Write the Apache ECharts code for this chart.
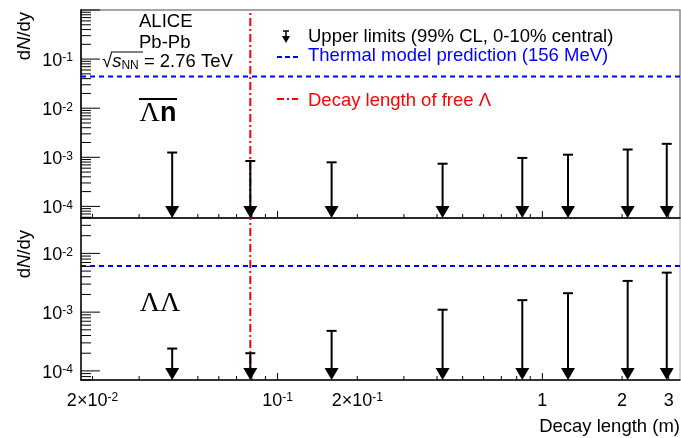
<!DOCTYPE html>
<html>
<head>
<meta charset="utf-8">
<script src="https://cdn.jsdelivr.net/npm/echarts@6/dist/echarts.min.js"></script>
<style>
html,body{margin:0;padding:0;background:#fff;}
#main{width:681px;height:438px;}
</style>
</head>
<body>
<div id="main"></div>
<script>
// decay lengths (m) where upper limits were set
var decayLength = [0.04, 0.0789, 0.16, 0.42, 0.84, 1.25, 2.1, 2.95];
// 99% CL upper limits dN/dy
var lnUpperLimit = [1.25e-3, 8.4e-4, 7.9e-4, 7.4e-4, 9.7e-4, 1.13e-3, 1.44e-3, 1.88e-3];
var llUpperLimit = [2.4e-4, 2.0e-4, 4.8e-4, 1.1e-3, 1.6e-3, 2.1e-3, 3.4e-3, 4.7e-3];
// thermal model (156 MeV) : [Lambda-n, Lambda-Lambda]
var thermalPrediction = [0.044, 0.0061];
var freeLambdaDecay = 0.0789;

var xRange = [0.0181, 3.31];
var topYRange = [5.8e-5, 1.0];
var botYRange = [7e-5, 0.04];

var xLabelValues = [0.02, 0.1, 0.2, 1, 2, 3];
var xLabelTexts = ['2×10{s|-2}', '10{s|-1}', '2×10{s|-1}', '1', '2', '3'];
var topYLabelValues = [1e-1, 1e-2, 1e-3, 1e-4];
var botYLabelValues = [1e-2, 1e-3, 1e-4];

var FONT = 'Liberation Sans';
var chart = echarts.init(document.getElementById('main'));

function arrowItem(yMin){
	return function(params, api){
		var top = api.coord([api.value(0), api.value(1)]);
		var bot = api.coord([api.value(0), yMin]);
		var hw = 7, hh = 12;
		return {
			type: 'group',
			children: [
				{type: 'line', shape: {x1: top[0], y1: top[1], x2: bot[0], y2: bot[1] - hh + 1}, style: {stroke: '#000', lineWidth: 2}},
				{type: 'line', shape: {x1: top[0] - 5, y1: top[1], x2: top[0] + 5, y2: top[1]}, style: {stroke: '#000', lineWidth: 2}},
				{type: 'polygon', shape: {points: [[bot[0] - hw, bot[1] - hh], [bot[0] + hw, bot[1] - hh], [bot[0], bot[1]]]}, style: {fill: '#000'}}
			]
		};
	};
}

function pairs(xs, ys){
	return xs.map(function(x, i){ return [x, ys[i]]; });
}

function refLine(gi, data, color, dash){
	return {type: 'line', xAxisIndex: gi, yAxisIndex: gi, data: data, symbol: 'none', silent: true, z: 2,
		lineStyle: {color: color, width: 2, type: dash}};
}

var axisLine = {show: true, lineStyle: {color: '#000', width: 1.5}};
var yRanges = [topYRange, botYRange];

var series = [];
[0, 1].forEach(function(gi){
	var yr = yRanges[gi];
	series.push(refLine(gi, [[xRange[0], thermalPrediction[gi]], [xRange[1], thermalPrediction[gi]]], '#0000ff', [5, 4]));
	series.push(refLine(gi, [[freeLambdaDecay, yr[0]], [freeLambdaDecay, yr[1]]], '#ff0000', [8, 3, 2, 3]));
});
series.push({type: 'custom', xAxisIndex: 0, yAxisIndex: 0, renderItem: arrowItem(topYRange[0]),
	data: pairs(decayLength, lnUpperLimit), z: 3});
series.push({type: 'custom', xAxisIndex: 1, yAxisIndex: 1, renderItem: arrowItem(botYRange[0]),
	data: pairs(decayLength, llUpperLimit), z: 3});

var option = {
	animation: false,
	grid: [
		{left: 81, right: 1, top: 10, height: 208, show: true, borderColor: '#888', borderWidth: 1.5},
		{left: 81, right: 1, top: 218, height: 162, show: true, borderColor: '#aaa', borderWidth: 1}
	],
	xAxis: [0, 1].map(function(i){
		return {gridIndex: i, type: 'log', min: xRange[0], max: xRange[1], axisLine: axisLine,
			axisTick: {show: false}, axisLabel: {show: false}, splitLine: {show: false}};
	}),
	yAxis: yRanges.map(function(r, i){
		return {gridIndex: i, type: 'log', min: r[0], max: r[1], axisLine: axisLine,
			axisTick: {show: false}, axisLabel: {show: false}, splitLine: {show: false}};
	}),
	series: series
};
chart.setOption(option);

// ROOT-like log ticks and labels, placed with the chart's own scales
var g = [];
function px(gi, x, y){ return chart.convertToPixel({gridIndex: gi}, [x, y]); }
function seg(x1, y1, x2, y2, w, c){
	g.push({type: 'line', silent: true, z: 10, shape: {x1: x1, y1: y1, x2: x2, y2: y2}, style: {stroke: c || '#000', lineWidth: w || 1}});
}
function txt(x, y, text, size, align, vAlign, extra){
	var el = {type: 'text', x: x, y: y, silent: true, z: 10, style: {
		text: text, fill: '#000', fontSize: size, fontFamily: FONT, align: align, verticalAlign: vAlign,
		rich: {
			s: {fontSize: 12, fontFamily: FONT, verticalAlign: 'top'},
			i: {fontSize: size, fontFamily: FONT, fontStyle: 'italic'},
			sub: {fontSize: 12, fontFamily: FONT, verticalAlign: 'bottom'}
		}
	}};
	if(extra){ for(var k in extra){ el[k] = extra[k]; } }
	g.push(el);
	return el;
}

[0, 1].forEach(function(gi){
	var yr = yRanges[gi];
	// x ticks
	for(var e = -2; e <= 0; e++){
		for(var d = 1; d <= 9; d++){
			var v = d * Math.pow(10, e);
			if(v < xRange[0] || v > xRange[1]) continue;
			var q = px(gi, v, yr[0]);
			seg(q[0], q[1], q[0], q[1] - (d === 1 ? 7 : 4), 1);
		}
	}
	// y ticks
	for(var e2 = -5; e2 <= 0; e2++){
		for(var d2 = 1; d2 <= 9; d2++){
			var v2 = d2 * Math.pow(10, e2);
			if(v2 < yr[0] || v2 > yr[1]) continue;
			var q2 = px(gi, xRange[0], v2);
			seg(q2[0], q2[1], q2[0] + (d2 === 1 ? 19 : 10), q2[1], 1);
		}
	}
});

topYLabelValues.forEach(function(v){
	var q = px(0, xRange[0], v);
	txt(73, q[1] + 2, '10{s|' + Math.round(Math.log10(v)) + '}', 18, 'right', 'middle');
});
botYLabelValues.forEach(function(v){
	var q = px(1, xRange[0], v);
	txt(73, q[1] + 2, '10{s|' + Math.round(Math.log10(v)) + '}', 18, 'right', 'middle');
});
xLabelValues.forEach(function(v, i){
	var q = px(1, v, botYRange[0]);
	txt(q[0], 401, xLabelTexts[i], 18, 'center', 'middle');
});

// titles
txt(680, 427, 'Decay length (m)', 18.5, 'right', 'middle');
txt(25, 12, 'd{i|N}/dy', 18.5, 'right', 'middle', {rotation: Math.PI / 2});
txt(25, 230, 'd{i|N}/dy', 18.5, 'right', 'middle', {rotation: Math.PI / 2});

// ALICE labels
txt(139, 22, 'ALICE', 18.5, 'left', 'middle');
txt(139, 43, 'Pb-Pb', 18.5, 'left', 'middle');
txt(102, 62, '√{i|s}{sub|NN} = 2.76 TeV', 18.5, 'left', 'middle');
seg(111, 52, 143, 52, 1);

// particle labels
g.push({type: 'text', x: 158, y: 114, silent: true, z: 10, style: {
	text: '{l|Λ}{n|n}', align: 'center', verticalAlign: 'middle', fill: '#000',
	rich: {l: {fontSize: 28, fontFamily: 'Liberation Serif'}, n: {fontSize: 27, fontFamily: FONT, fontWeight: 'bold'}}
}});
seg(139, 99, 177, 99, 2);
g.push({type: 'text', x: 160, y: 304, silent: true, z: 10, style: {
	text: 'ΛΛ', align: 'center', verticalAlign: 'middle', fill: '#000', fontSize: 28, fontFamily: 'Liberation Serif'
}});

// legend
seg(283, 31, 289, 31, 1.5);
seg(286, 31, 286, 37, 1.5);
g.push({type: 'polygon', silent: true, z: 10, shape: {points: [[282, 36], [290, 36], [286, 43]]}, style: {fill: '#000'}});
txt(308, 37, 'Upper limits (99% CL, 0-10% central)', 18.5, 'left', 'middle');
g.push({type: 'line', silent: true, z: 10, shape: {x1: 277, y1: 57, x2: 298, y2: 57}, style: {stroke: '#0000ff', lineWidth: 2, lineDash: [5, 3]}});
var t2 = txt(308, 56, 'Thermal model prediction (156 MeV)', 18.5, 'left', 'middle');
t2.style.fill = '#0000ff';
g.push({type: 'line', silent: true, z: 10, shape: {x1: 277, y1: 99, x2: 298, y2: 99}, style: {stroke: '#ff0000', lineWidth: 2, lineDash: [7, 3, 2, 3]}});
var t3 = txt(308, 101, 'Decay length of free Λ', 18.5, 'left', 'middle');
t3.style.fill = '#ff0000';

chart.setOption({graphic: g});
</script>
</body>
</html>
